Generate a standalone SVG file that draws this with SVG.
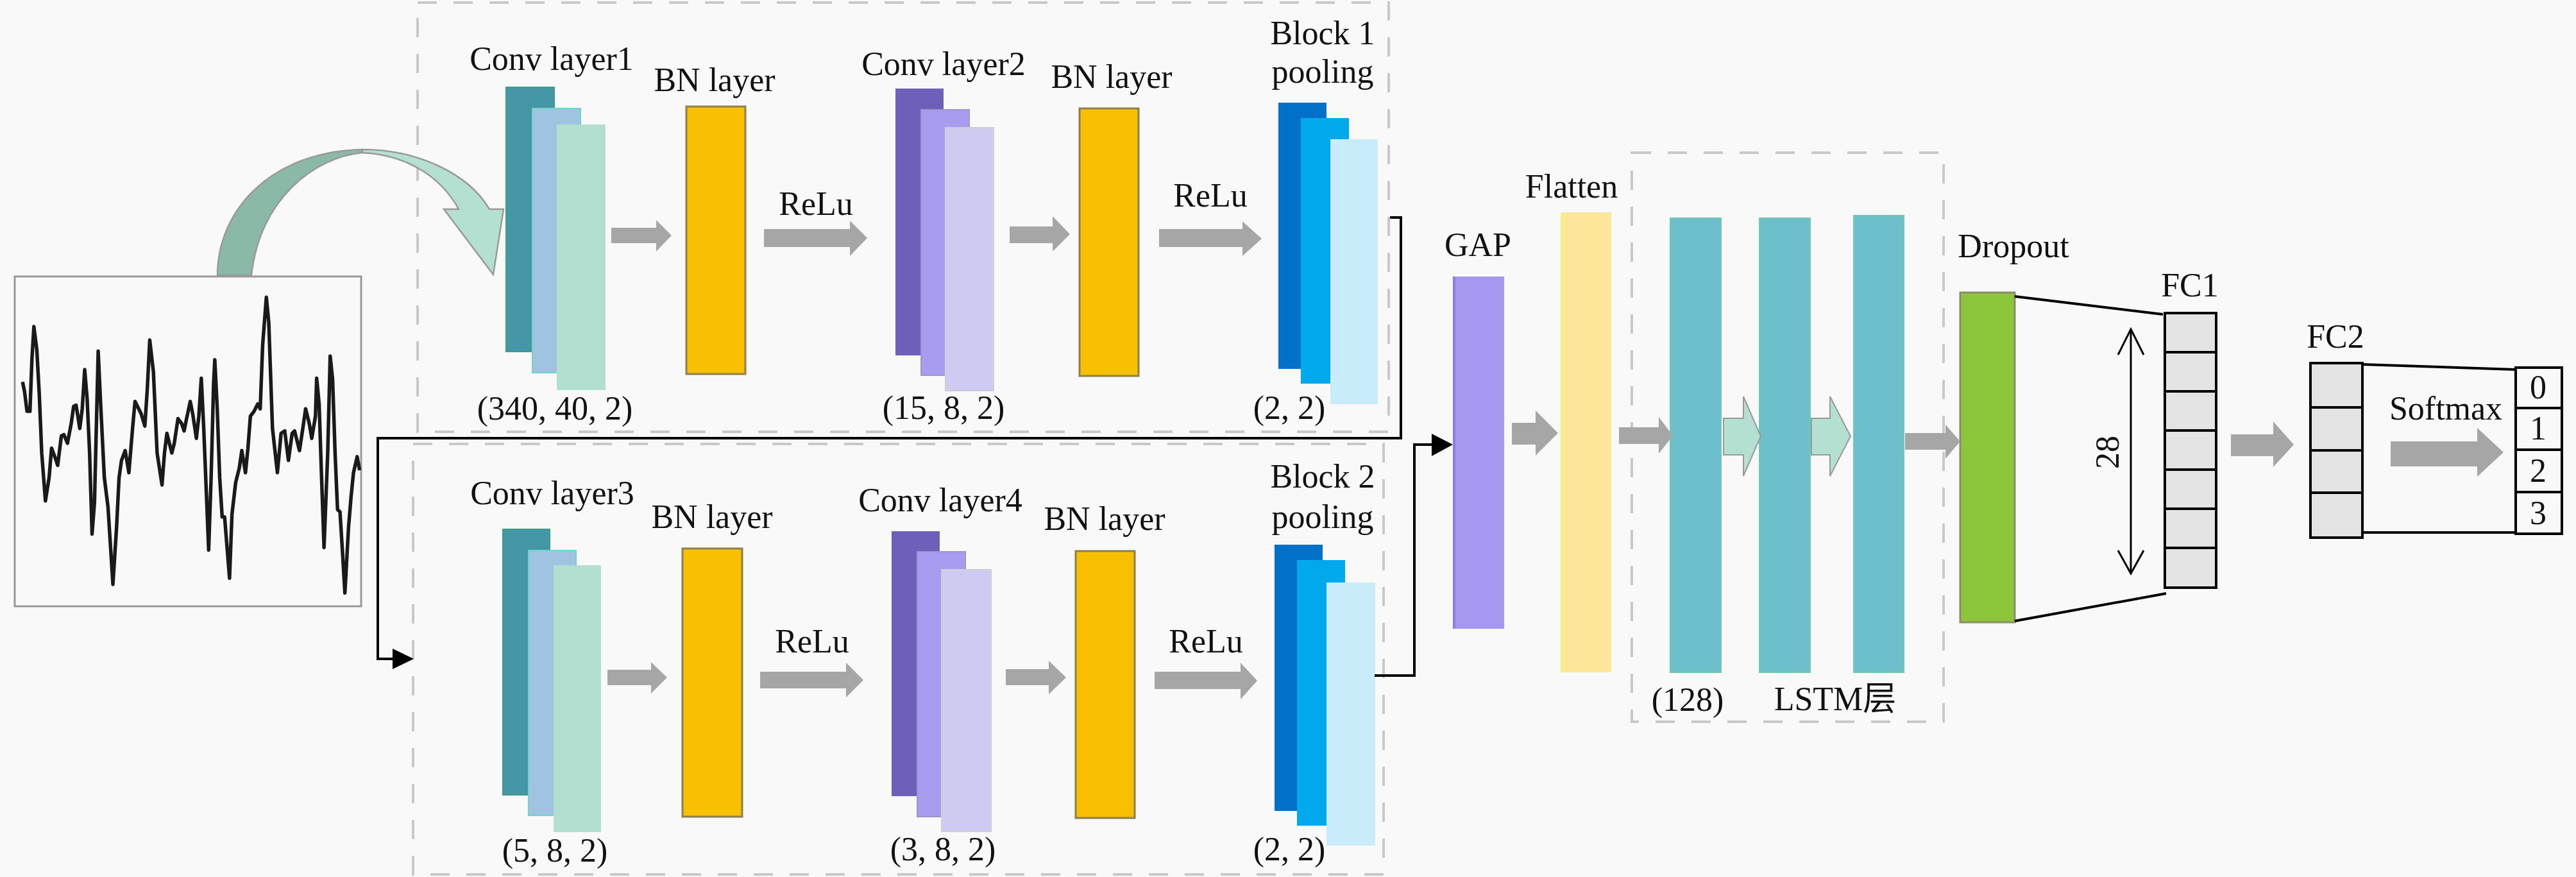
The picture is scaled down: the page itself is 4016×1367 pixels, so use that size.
<svg xmlns="http://www.w3.org/2000/svg" width="4016" height="1367" viewBox="0 0 4016 1367">
<style>
text{font-family:"Liberation Serif","Noto Sans CJK SC",serif;font-size:52px;fill:#111;text-anchor:middle}
.dash{fill:none;stroke:#c9c9c9;stroke-width:4;stroke-dasharray:30 26}
.ga{fill:#a6a6a6}
.la{fill:#b4e0d2;stroke:#9a9a9a;stroke-width:2}
.bn{fill:#f8c000;stroke:#8e7f4e;stroke-width:3}
.c1{fill:#4596a6;stroke:#3c9c84;stroke-width:2}
.c2{fill:#9fc3e1;stroke:#6ed6c6;stroke-width:2}
.c3{fill:#b3dfd0}
.p1{fill:#6e5fbb}
.p2{fill:#a79cef;stroke:#9d95cc;stroke-width:2}
.p3{fill:#cfcaf2;stroke:#cfcfcf;stroke-width:2}
.b1{fill:#0070c8}
.b2{fill:#00a8ec}
.b3{fill:#c8ecfa}
.lstm{fill:#6dbfcc;stroke:#72c7b0;stroke-width:2}
.fc{fill:#e4e4e4;stroke:#000;stroke-width:4}
.cell{fill:#f9f9f9;stroke:#000;stroke-width:4}
.ln{fill:none;stroke:#000;stroke-width:4}
.thin{fill:none;stroke:#000;stroke-width:3}
</style>
<rect x="0" y="0" width="4016" height="1367" fill="#f9f9f9"/>

<!-- dashed boxes -->
<rect class="dash" x="651" y="4" width="1514" height="669"/>
<rect class="dash" x="644" y="692" width="1513" height="671"/>
<rect class="dash" x="2544" y="238" width="486" height="887"/>

<g id="input">
<rect x="23" y="431" width="540" height="514" fill="#f9f9f9" stroke="#999" stroke-width="3"/>
<g transform="translate(0,400) scale(0.3827)">
<polyline fill="none" stroke="#1a1a1a" stroke-width="5.5" vector-effect="non-scaling-stroke" stroke-linejoin="round" points="92,510 100,550 110,630 122,630 130,420 138,285 150,380 160,560 170,800 185,995 200,900 210,780 225,820 235,850 250,730 260,725 275,760 290,680 300,610 310,605 325,700 335,620 345,460 355,580 365,800 375,1130 385,1000 400,385 410,600 425,900 440,1020 460,1335 475,1100 485,900 495,830 510,790 525,880 540,700 550,590 565,620 575,640 590,690 600,540 610,340 625,470 640,800 660,930 670,800 680,720 700,800 710,760 725,660 740,680 750,710 760,660 775,590 785,640 800,740 810,650 820,495 830,700 850,1195 860,900 870,520 875,420 885,620 895,900 905,1060 915,1060 935,1310 945,1050 960,920 975,860 985,790 1000,880 1010,780 1020,650 1035,630 1050,600 1060,620 1070,360 1085,165 1095,270 1110,700 1130,880 1145,720 1160,710 1175,830 1190,720 1200,710 1220,790 1235,690 1245,620 1260,680 1270,740 1285,650 1290,495 1300,600 1310,900 1320,1185 1335,800 1345,405 1355,500 1365,800 1375,1030 1385,1040 1395,1200 1405,1370 1420,1100 1430,980 1440,880 1455,815 1465,870"/>
</g>
</g>

<g id="curved-arrow">
<path d="M339,429 C339,330 420,236 565,233 L565,238 C490,245 405,310 392,429 Z" fill="#8ab9a8" stroke="#9a9a9a" stroke-width="2.5"/>
<path d="M565,233 C650,233 730,270 763,326 L785,326 L769,428 L692,326 L715,326 C690,280 640,242 565,238 Z" fill="#b4e0d2" stroke="#9a9a9a" stroke-width="2.5"/>
</g>

<!-- Block 1 -->
<g id="conv1">
<rect class="c1" x="789" y="136" width="75" height="412"/>
<rect class="c2" x="830" y="169" width="75" height="412"/>
<rect class="c3" x="868" y="194" width="76" height="414"/>
<text x="860" y="109">Conv layer1</text>
<text x="865" y="654">(340, 40, 2)</text>
</g>
<g id="bn1">
<rect class="bn" x="1070" y="166" width="92" height="417"/>
<text x="1114" y="142">BN layer</text>
</g>
<g id="conv2">
<rect class="p1" x="1396" y="138" width="75" height="416"/>
<rect class="p2" x="1436" y="171" width="75" height="414"/>
<rect class="p3" x="1474" y="199" width="75" height="410"/>
<text x="1471" y="117">Conv layer2</text>
<text x="1471" y="653">(15, 8, 2)</text>
</g>
<g id="bn2">
<rect class="bn" x="1683" y="169" width="92" height="417"/>
<text x="1733" y="137">BN layer</text>
</g>
<g id="pool1">
<rect class="b1" x="1993" y="160" width="75" height="415"/>
<rect class="b2" x="2028" y="184" width="75" height="414"/>
<rect class="b3" x="2074" y="217" width="74" height="413"/>
<text x="2062" y="69">Block 1</text>
<text x="2062" y="129">pooling</text>
<text x="2010" y="653">(2, 2)</text>
</g>

<!-- Block 2 -->
<g id="conv3">
<rect class="c1" x="784" y="825" width="73" height="414"/>
<rect class="c2" x="824" y="858" width="74" height="413"/>
<rect class="c3" x="863" y="881" width="74" height="416"/>
<text x="861" y="786">Conv layer3</text>
<text x="865" y="1343">(5, 8, 2)</text>
</g>
<g id="bn3">
<rect class="bn" x="1064" y="855" width="93" height="418"/>
<text x="1110" y="823">BN layer</text>
</g>
<g id="conv4">
<rect class="p1" x="1390" y="828" width="75" height="413"/>
<rect class="p2" x="1430" y="860" width="75" height="413"/>
<rect class="p3" x="1468" y="888" width="77" height="408"/>
<text x="1466" y="797">Conv layer4</text>
<text x="1470" y="1341">(3, 8, 2)</text>
</g>
<g id="bn4">
<rect class="bn" x="1677" y="859" width="92" height="416"/>
<text x="1722" y="826">BN layer</text>
</g>
<g id="pool2">
<rect class="b1" x="1987" y="849" width="75" height="415"/>
<rect class="b2" x="2022" y="873" width="75" height="414"/>
<rect class="b3" x="2068" y="908" width="76" height="410"/>
<text x="2062" y="760">Block 2</text>
<text x="2062" y="823">pooling</text>
<text x="2010" y="1341">(2, 2)</text>
</g>

<g id="gap">
<rect x="2265" y="431" width="80" height="549" fill="#a697f0"/>
<rect x="2265" y="431" width="4" height="549" fill="#8a80e8"/>
<text x="2304" y="399">GAP</text>
</g>
<g id="flatten">
<rect x="2433" y="331" width="79" height="717" fill="#fde59a"/>
<rect x="2433" y="331" width="5" height="717" fill="#f8ee84"/>
<text x="2450" y="308">Flatten</text>
</g>
<g id="lstm">
<rect class="lstm" x="2604" y="340" width="79" height="708"/>
<rect class="lstm" x="2743" y="340" width="79" height="708"/>
<rect class="lstm" x="2890" y="336" width="78" height="712"/>
<text x="2631" y="1108">(128)</text>
<text x="2861" y="1107">LSTM层</text>
</g>
<g id="dropout">
<rect x="3056" y="456" width="85" height="514" fill="#8cc63a" stroke="#8c8c6a" stroke-width="3"/>
<text x="3139" y="401">Dropout</text>
</g>
<g id="fc1">
<rect class="fc" x="3375" y="488" width="80" height="428"/>
<path class="ln" d="M3375,549H3455M3375,610H3455M3375,671H3455M3375,732H3455M3375,793H3455M3375,854H3455"/>
<text x="3414" y="462">FC1</text>
<line class="thin" x1="3322" y1="515" x2="3322" y2="892"/>
<polyline class="thin" points="3302,553 3322,513 3342,553"/>
<polyline class="thin" points="3302,858 3322,894 3342,858"/>
<text transform="translate(3303,705) rotate(-90)" x="0" y="0">28</text>
</g>
<g id="fc2">
<rect class="fc" x="3602" y="566" width="81" height="272"/>
<path class="ln" d="M3602,635H3683M3602,702H3683M3602,768H3683"/>
<text x="3641" y="542">FC2</text>
</g>
<g id="output">
<rect class="cell" x="3922" y="573" width="72" height="259"/>
<path class="ln" d="M3922,636H3994M3922,701H3994M3922,767H3994"/>
<text x="3957" y="621">0</text>
<text x="3957" y="685">1</text>
<text x="3957" y="751">2</text>
<text x="3957" y="817">3</text>
</g>

<g id="connectors">
<!-- grey block arrows -->
<polygon class="ga" points="953,355 1023,355 1023,343 1047,367 1023,392 1023,379 953,379"/>
<polygon class="ga" points="1191,357 1325,357 1325,344 1352,371 1325,399 1325,385 1191,385"/>
<polygon class="ga" points="1574,353 1641,353 1641,337 1668,365 1641,392 1641,379 1574,379"/>
<polygon class="ga" points="1807,357 1937,357 1937,345 1967,372 1937,399 1937,385 1807,385"/>
<polygon class="ga" points="947,1044 1015,1044 1015,1032 1040,1056 1015,1081 1015,1068 947,1068"/>
<polygon class="ga" points="1185,1047 1319,1047 1319,1033 1346,1060 1319,1087 1319,1073 1185,1073"/>
<polygon class="ga" points="1568,1043 1635,1043 1635,1030 1662,1056 1635,1082 1635,1068 1568,1068"/>
<polygon class="ga" points="1800,1047 1934,1047 1934,1033 1960,1061 1934,1090 1934,1074 1800,1074"/>
<polygon class="ga" points="2357,659 2394,659 2394,640 2429,675 2394,710 2394,693 2357,693"/>
<polygon class="ga" points="2524,666 2586,666 2586,650 2608,679 2586,707 2586,692 2524,692"/>
<polygon class="ga" points="2970,675 3033,675 3033,662 3056,688 3033,715 3033,701 2970,701"/>
<polygon class="ga" points="3478,677 3544,677 3544,657 3576,693 3544,728 3544,711 3478,711"/>
<polygon class="ga" points="3727,688 3862,688 3862,667 3903,705 3862,743 3862,727 3727,727"/>
<polygon class="la" points="2687,652 2718,652 2718,618 2745,680 2718,742 2718,709 2687,709"/>
<polygon class="la" points="2824,652 2853,652 2853,618 2885,680 2853,742 2853,709 2824,709"/>
<text x="1272" y="335">ReLu</text>
<text x="1887" y="322">ReLu</text>
<text x="1266" y="1017">ReLu</text>
<text x="1880" y="1017">ReLu</text>
<text x="3813" y="654">Softmax</text>
<!-- black routing lines -->
<polyline class="ln" points="2167,339 2184,339 2184,683 589,683 589,1027 614,1027"/>
<polygon points="612,1011 645,1027 612,1043" fill="#000"/>
<polyline class="ln" points="2143,1053 2205,1053 2205,693 2234,693"/>
<polygon points="2232,676 2265,693 2232,711" fill="#000"/>
<!-- fc lines -->
<line class="ln" x1="3141" y1="462" x2="3372" y2="490"/>
<line class="ln" x1="3141" y1="968" x2="3377" y2="925"/>
<line class="ln" x1="3683" y1="568" x2="3921" y2="576"/>
<line class="ln" x1="3684" y1="830" x2="3920" y2="830"/>
</g>
</svg>
